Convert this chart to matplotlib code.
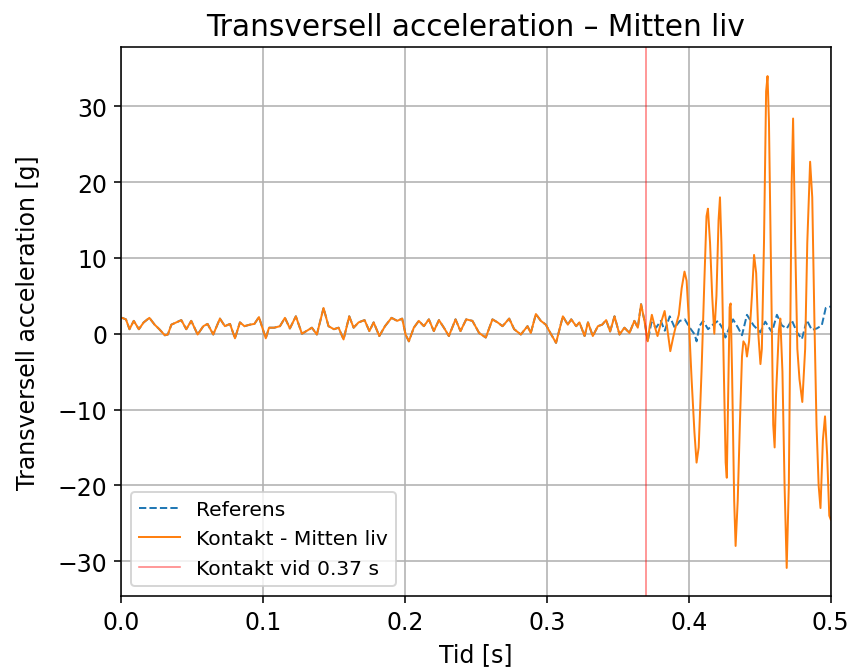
import matplotlib
matplotlib.use("Agg")
import matplotlib.pyplot as plt
import numpy as np

# Reference signal (Referens)
ref_t = [0.000, 0.0007, 0.0035, 0.006, 0.009, 0.0126, 0.016, 0.020, 0.0237, 0.027,
         0.0309, 0.033, 0.0355, 0.039, 0.0425, 0.046, 0.0495, 0.054, 0.058, 0.061,
         0.065, 0.0697, 0.0732, 0.0768, 0.0803, 0.0838, 0.087, 0.0908, 0.094, 0.0972,
         0.0996, 0.102, 0.1043, 0.108, 0.112, 0.1155, 0.119, 0.1232, 0.1275, 0.131,
         0.1345, 0.138, 0.1427, 0.1462, 0.150, 0.1533, 0.1568, 0.1608, 0.1639, 0.1674,
         0.1716, 0.175, 0.178, 0.182, 0.186, 0.1906, 0.1946, 0.1981, 0.2005, 0.2028,
         0.2063, 0.2098, 0.2134, 0.2169, 0.2204, 0.224, 0.2275, 0.231, 0.2357, 0.2392,
         0.2432, 0.2476, 0.2523, 0.257, 0.2617, 0.2653, 0.2688, 0.2735, 0.277, 0.2817,
         0.2864, 0.2887, 0.2923, 0.2958, 0.2993, 0.3028, 0.3065, 0.3113, 0.3148, 0.3172,
         0.3207, 0.323, 0.3266, 0.329, 0.3324, 0.336, 0.339, 0.3418, 0.3446, 0.3477,
         0.3512, 0.3547, 0.3582, 0.3617, 0.3641, 0.3664, 0.3688, 0.3711,
         0.3737, 0.377, 0.3803, 0.3831, 0.3866, 0.3901, 0.3937, 0.3972, 0.4007, 0.4042,
         0.4055, 0.4075, 0.4101, 0.4136, 0.417, 0.4206, 0.4242, 0.4258, 0.429, 0.4312,
         0.4347, 0.4375, 0.441, 0.4457, 0.4504, 0.4539, 0.4586, 0.4621, 0.4656, 0.4691,
         0.4726, 0.4762, 0.4797, 0.4832, 0.4867, 0.4902, 0.4937, 0.4965, 0.500]
ref_v = [2.0, 2.1, 1.9, 0.6, 1.7, 0.6, 1.5, 2.1, 1.2, 0.6,
         -0.2, -0.1, 1.2, 1.5, 1.8, 0.6, 1.7, -0.1, 1.0, 1.3,
         -0.1, 2.0, 1.0, 1.3, -0.6, 1.5, 1.0, 1.2, 1.3, 2.2,
         0.8, -0.6, 0.8, 0.8, 1.0, 2.1, 0.7, 2.3, 0.0, 0.4,
         0.8, -0.1, 3.4, 1.0, 0.6, 0.8, -0.75, 2.3, 0.8, 1.5,
         1.8, 0.35, 1.5, -0.3, 1.0, 2.1, 1.7, 2.0, -0.1, -1.0,
         0.8, 1.7, 1.0, 1.9, 0.35, 1.8, 0.8, -0.3, 1.9, 0.35,
         1.9, 1.7, 0.1, -0.5, 1.9, 1.5, 1.0, 2.0, 0.6, -0.1,
         1.0, 0.1, 2.6, 1.7, 1.2, 0.0, -1.2, 2.3, 1.2, 1.9,
         1.0, 1.5, -0.3, 1.5, -0.3, 1.0, 1.2, 1.8, 0.3, 2.3,
         -0.1, 0.8, 0.1, 1.7, 0.8, 3.9, 1.7, -1.0,
         1.5, 0.8, 1.7, 0.4, 2.3, 0.8, 1.7, 1.9, 0.8, -0.1,
         -1.0, 1.0, 1.7, 0.6, 1.2, 1.7, 0.6, -0.5, 1.0, 1.9,
         0.8, -0.2, 2.5, 1.1, 0.2, 1.6, 0.2, 2.5, 1.1, 0.7,
         1.8, 0.2, -0.7, 1.8, 0.5, 0.7, 1.1, 3.4, 3.6]

# Contact signal after contact (before contact it equals the reference)
contact_time = 0.37
post_t = [0.3725, 0.374, 0.376, 0.378, 0.3805, 0.383, 0.385, 0.387, 0.389, 0.391,
          0.393, 0.395, 0.397, 0.3985, 0.400, 0.402, 0.404, 0.4055, 0.407, 0.409,
          0.411, 0.4125, 0.4135, 0.415, 0.4165, 0.418, 0.4195, 0.421, 0.422, 0.423,
          0.4245, 0.426, 0.4268, 0.4278, 0.4288, 0.4295, 0.4305, 0.432, 0.433, 0.4345,
          0.436, 0.4375, 0.4385, 0.440, 0.441, 0.4425, 0.4445, 0.446, 0.4475, 0.449,
          0.4505, 0.4515, 0.453, 0.4545, 0.4555, 0.4565, 0.458, 0.4595, 0.4605, 0.4615,
          0.4635, 0.4645, 0.466, 0.4675, 0.469, 0.4705, 0.4715, 0.4725, 0.4735, 0.475,
          0.4765, 0.478, 0.480, 0.482, 0.4835, 0.4855, 0.487, 0.4885, 0.490, 0.4915,
          0.4928, 0.4945, 0.496, 0.4975, 0.499, 0.500]
post_v = [1.0, 2.5, 1.0, -0.3, 1.5, 3.0, 0.5, -2.3, -0.5, 1.1,
          2.5, 6.0, 8.2, 7.0, 2.0, -6.0, -13.0, -17.0, -15.0, -5.0,
          7.0, 15.5, 16.5, 12.0, 5.0, 0.0, 5.0, 15.0, 18.0, 12.0,
          -3.0, -17.0, -19.0, -8.0, 3.5, 4.0, -5.0, -22.0, -28.0, -22.0,
          -12.0, -3.0, -1.0, -1.5, -3.0, -1.0, 5.0, 10.4, 8.0, 0.0,
          -4.0, -2.0, 12.0, 32.0, 34.0, 28.0, 8.0, -12.0, -15.0, -8.0,
          0.5, 2.0, -5.0, -20.0, -30.9, -20.0, 0.0, 20.0, 28.4, 12.0,
          -2.0, -6.0, -9.0, -2.0, 12.0, 22.7, 18.0, 2.0, -12.0, -20.0,
          -23.0, -14.0, -10.9, -16.0, -24.0, -24.5]

n_pre = sum(1 for t in ref_t if t <= 0.3711)
con_t = ref_t[:n_pre] + post_t
con_v = ref_v[:n_pre] + post_v

plt.rcParams['font.size'] = 12
fig = plt.figure(figsize=(6.0, 4.718), dpi=142)
ax = fig.add_axes([0.142, 0.109, 0.833, 0.819])
ax.plot(ref_t, ref_v, '--', color='#1f77b4', lw=1.0, label='Referens')
ax.plot(con_t, con_v, '-', color='#ff7f0e', lw=1.0, label='Kontakt - Mitten liv')
ax.axvline(contact_time, color='red', alpha=0.5, lw=0.8, label=f'Kontakt vid {contact_time:.2f} s')
ax.set_xlim(0, 0.5)
ax.set_ylim(-34.6, 37.8)
ax.grid(True)
ax.set_xlabel('Tid [s]', fontsize=12)
ax.set_ylabel('Transversell acceleration [g]', fontsize=12, labelpad=9)
ax.set_title('Transversell acceleration – Mitten liv', fontsize=15)
ax.legend(loc='lower left', fontsize=10.3)
fig.savefig('out.png', dpi=142)
